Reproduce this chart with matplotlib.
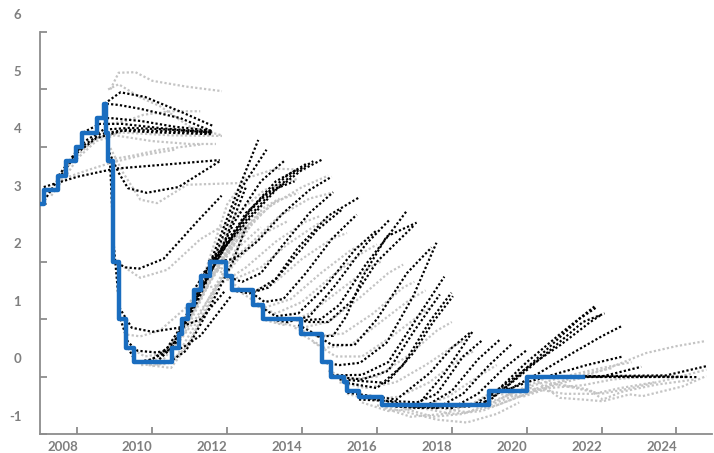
import numpy as np
import matplotlib.pyplot as plt
from matplotlib.transforms import ScaledTranslation

# policy rate (step changes), year -> percent
rate_dates = [2007.0, 2007.12, 2007.47, 2007.7, 2007.95, 2008.12, 2008.52, 2008.7, 2008.77,
              2008.82, 2008.95, 2009.12, 2009.3, 2009.52, 2010.52, 2010.7, 2010.8, 2010.96,
              2011.12, 2011.3, 2011.53, 2011.96, 2012.12, 2012.7, 2012.96, 2013.96, 2014.52,
              2014.78, 2015.12, 2015.21, 2015.52, 2016.13, 2019.0, 2020.0, 2021.5]
rate_values = [3.0, 3.25, 3.5, 3.75, 4.0, 4.25, 4.5, 4.75, 4.25,
               3.75, 2.0, 1.0, 0.5, 0.25, 0.5, 0.75, 1.0, 1.25,
               1.5, 1.75, 2.0, 1.75, 1.5, 1.25, 1.0, 0.75, 0.25,
               0.0, -0.1, -0.25, -0.35, -0.5, -0.25, 0.0, 0.0]

# published forecast paths (black), (year, percent)
forecast_paths_2007_2009 = [
    [(2007.05, 3.0), (2007.5, 3.45), (2008.0, 3.9), (2008.5, 4.15), (2009.2, 4.28), (2010.2, 4.25), (2011.6, 4.22)],
    [(2007.1, 3.3), (2008.0, 3.48), (2009.0, 3.62), (2010.5, 3.7), (2011.8, 3.77)],
    [(2007.5, 3.5), (2008.0, 3.95), (2008.6, 4.22), (2009.3, 4.3), (2010.5, 4.27), (2011.6, 4.24)],
    [(2007.8, 3.75), (2008.2, 4.1), (2008.7, 4.3), (2009.4, 4.33), (2010.5, 4.3), (2011.6, 4.25)],
    [(2008.15, 4.25), (2008.6, 4.4), (2009.2, 4.4), (2010.3, 4.32), (2011.6, 4.26)],
    [(2008.55, 4.5), (2008.9, 4.5), (2009.7, 4.45), (2010.6, 4.35), (2011.6, 4.28)],
    [(2008.72, 4.75), (2009.15, 4.95), (2009.8, 4.87), (2010.8, 4.6), (2011.6, 4.37)],
    [(2008.78, 4.75), (2009.1, 4.73), (2009.7, 4.66), (2010.75, 4.5), (2011.6, 4.27)],
    [(2008.85, 3.9), (2009.1, 3.55), (2009.35, 3.28), (2009.85, 3.2), (2010.7, 3.3), (2011.8, 3.75)],
    [(2008.95, 2.0), (2009.3, 1.9), (2009.65, 1.88), (2010.3, 2.05), (2011.2, 2.7), (2011.85, 3.15)],
    [(2008.87, 3.75), (2008.97, 2.3), (2009.12, 1.2), (2009.45, 0.85), (2010.0, 0.78), (2010.7, 0.85), (2011.3, 1.0), (2011.95, 1.5)],
    [(2009.15, 1.0), (2009.35, 0.6), (2009.6, 0.45), (2010.1, 0.42), (2010.8, 0.5), (2011.3, 0.72), (2012.1, 1.4)],
]

forecast_paths_2009_2012 = [
    [(2009.35, 0.5), (2009.55, 0.27), (2010.45, 0.25), (2010.9, 0.45), (2011.45, 1.1), (2012.15, 2.0), (2012.5, 2.6)],
    [(2009.55, 0.25), (2010.0, 0.3), (2010.6, 0.6), (2011.2, 1.3), (2011.9, 2.3), (2012.5, 3.3)],
    [(2009.8, 0.25), (2010.3, 0.4), (2010.9, 1.0), (2011.5, 1.9), (2012.2, 3.1), (2012.83, 4.12)],
    [(2010.1, 0.25), (2010.6, 0.55), (2011.2, 1.35), (2011.8, 2.3), (2012.4, 3.3), (2013.05, 3.95)],
    [(2010.5, 0.5), (2011.0, 1.1), (2011.6, 1.9), (2012.2, 2.7), (2012.9, 3.4), (2013.55, 3.77)],
    [(2010.7, 0.75), (2011.2, 1.4), (2011.8, 2.1), (2012.5, 2.85), (2013.2, 3.25), (2013.8, 3.4)],
    [(2010.85, 1.0), (2011.3, 1.55), (2011.9, 2.2), (2012.6, 2.9), (2013.3, 3.4), (2013.85, 3.6)],
    [(2011.1, 1.5), (2011.6, 2.0), (2012.2, 2.55), (2012.9, 3.1), (2013.6, 3.5), (2014.1, 3.7)],
    [(2011.3, 1.75), (2011.8, 2.15), (2012.4, 2.65), (2013.1, 3.15), (2013.8, 3.55), (2014.3, 3.75)],
    [(2011.5, 2.0), (2012.0, 2.3), (2012.6, 2.75), (2013.3, 3.25), (2014.0, 3.6), (2014.57, 3.79)],
    [(2011.7, 2.0), (2012.2, 2.05), (2012.8, 2.35), (2013.5, 2.85), (2014.2, 3.25), (2014.79, 3.48)],
    [(2011.95, 1.75), (2012.4, 1.65), (2012.9, 1.8), (2013.5, 2.3), (2014.2, 2.85), (2014.83, 3.21)],
]

forecast_paths_2012_2015 = [
    [(2012.12, 1.5), (2012.6, 1.45), (2013.1, 1.55), (2013.7, 2.0), (2014.4, 2.55), (2015.05, 2.9)],
    [(2012.3, 1.5), (2012.8, 1.5), (2013.3, 1.7), (2013.9, 2.25), (2014.7, 2.8), (2015.55, 3.13)],
    [(2012.55, 1.5), (2013.0, 1.3), (2013.5, 1.35), (2014.1, 1.8), (2014.8, 2.4), (2015.46, 2.82)],
    [(2012.8, 1.25), (2013.3, 1.05), (2013.9, 1.1), (2014.6, 1.55), (2015.4, 2.2), (2016.0, 2.55)],
    [(2013.1, 1.0), (2013.6, 0.95), (2014.2, 1.05), (2014.9, 1.6), (2015.7, 2.3), (2016.35, 2.74)],
    [(2013.5, 1.0), (2014.0, 0.98), (2014.5, 1.0), (2015.0, 1.25), (2015.7, 1.95), (2016.3, 2.45), (2016.79, 2.88)],
    [(2013.7, 1.0), (2014.2, 0.95), (2014.7, 0.95), (2015.3, 1.3), (2016.0, 2.0), (2016.97, 2.62)],
    [(2013.9, 0.9), (2014.47, 0.7), (2014.83, 0.71), (2015.18, 1.05), (2015.63, 1.75), (2016.26, 2.44), (2017.06, 2.68)],
    [(2014.3, 0.75), (2014.8, 0.55), (2015.4, 0.55), (2016.0, 1.0), (2016.8, 1.8), (2017.46, 2.25)],
    [(2014.52, 0.25), (2015.0, 0.2), (2015.55, 0.24), (2016.26, 0.59), (2016.97, 1.4), (2017.59, 2.33)],
    [(2014.8, 0.02), (2015.6, 0.03), (2016.3, 0.25), (2017.0, 0.95), (2017.8, 1.74)],
    [(2014.85, 0.0), (2015.6, -0.05), (2016.3, 0.1), (2017.0, 0.8), (2017.68, 1.43)],
    [(2015.0, -0.05), (2016.26, -0.11), (2016.97, 0.41), (2017.5, 0.95), (2018.03, 1.4)],
    [(2015.1, -0.1), (2016.0, -0.2), (2016.7, 0.2), (2017.4, 0.95), (2017.99, 1.46)],
    [(2015.21, -0.28), (2016.52, -0.4), (2017.41, 0.06), (2018.0, 0.5), (2018.48, 0.76)],
    [(2015.52, -0.4), (2017.15, -0.45), (2017.8, 0.05), (2018.56, 0.79)],
]

forecast_paths_2016_2021 = [
    [(2015.8, -0.38), (2016.9, -0.5), (2017.6, -0.3), (2018.3, 0.35), (2018.79, 0.62)],
    [(2016.13, -0.5), (2017.2, -0.55), (2018.0, -0.25), (2018.7, 0.3), (2019.28, 0.64)],
    [(2016.5, -0.52), (2017.6, -0.55), (2018.3, -0.3), (2019.0, 0.2), (2019.59, 0.56)],
    [(2016.9, -0.52), (2018.0, -0.55), (2018.7, -0.3), (2019.4, 0.15), (2020.02, 0.47)],
    [(2017.6, -0.52), (2018.5, -0.52), (2019.2, -0.25), (2020.0, 0.25), (2021.0, 0.8), (2021.81, 1.22)],
    [(2018.0, -0.52), (2018.8, -0.5), (2019.5, -0.15), (2020.5, 0.45), (2021.4, 1.0), (2021.85, 1.2)],
    [(2018.5, -0.5), (2019.0, -0.42), (2019.8, 0.0), (2020.7, 0.5), (2021.5, 0.95), (2022.08, 1.1)],
    [(2018.8, -0.5), (2019.1, -0.3), (2020.0, 0.15), (2020.9, 0.55), (2021.7, 0.95), (2022.0, 1.08)],
    [(2019.1, -0.25), (2019.6, -0.2), (2020.3, 0.05), (2021.2, 0.4), (2022.0, 0.7), (2022.57, 0.89)],
    [(2019.4, -0.25), (2020.0, -0.1), (2020.8, 0.05), (2021.6, 0.2), (2022.57, 0.35)],
    [(2020.0, 0.0), (2022.0, 0.0), (2022.5, 0.08), (2023.06, 0.17)],
    [(2020.2, 0.0), (2023.7, 0.0), (2024.57, -0.01)],
    [(2020.6, 0.0), (2023.72, 0.02), (2024.79, 0.18)],
    [(2020.9, 0.0), (2023.5, 0.0), (2024.3, 0.0)],
]

# market expectations (grey), (year, percent)
market_paths_2007_2012 = [
    [(2007.3, 3.15), (2007.7, 3.5), (2008.0, 3.8), (2008.5, 4.1), (2009.0, 4.2), (2010.0, 4.1), (2011.0, 4.05), (2011.7, 4.05)],
    [(2007.6, 3.55), (2008.0, 3.85), (2008.5, 4.15), (2009.2, 4.25), (2010.5, 4.2), (2011.86, 4.19)],
    [(2008.88, 5.0), (2009.1, 5.29), (2009.55, 5.3), (2010.0, 5.15), (2010.9, 5.05), (2011.86, 4.97)],
    [(2008.82, 5.0), (2009.1, 5.09), (2009.68, 4.86), (2010.2, 4.71), (2011.0, 4.35), (2011.86, 4.2)],
    [(2008.8, 4.39), (2009.3, 4.45), (2009.77, 4.56), (2010.5, 4.62), (2011.28, 4.62)],
    [(2008.88, 3.78), (2009.5, 3.85), (2010.2, 3.95), (2011.28, 4.04)],
    [(2008.88, 3.98), (2009.22, 3.55), (2009.68, 3.08), (2010.13, 3.02), (2010.93, 3.34), (2012.35, 3.37)],
    [(2007.55, 3.43), (2008.3, 3.6), (2008.88, 3.72), (2009.7, 3.85), (2010.6, 3.95)],
    [(2009.15, 1.95), (2009.68, 1.72), (2010.4, 1.86), (2011.28, 2.39), (2011.95, 2.65)],
    [(2009.33, 0.73), (2009.68, 0.7), (2010.2, 0.8), (2010.9, 1.2), (2011.6, 1.85), (2012.2, 2.4)],
    [(2009.4, 0.5), (2009.8, 0.35), (2010.3, 0.4), (2010.9, 0.9), (2011.5, 1.6), (2012.2, 2.3)],
    [(2009.6, 0.25), (2010.2, 0.3), (2010.8, 0.75), (2011.4, 1.5), (2012.0, 2.2), (2012.6, 2.8)],
    [(2009.7, 0.2), (2010.4, 0.22), (2010.9, 0.5), (2011.4, 1.1), (2011.9, 1.75), (2012.3, 2.1)],
    [(2009.9, 0.2), (2010.5, 0.15), (2011.0, 0.6), (2011.6, 1.4), (2012.3, 2.3), (2012.9, 2.9)],
    [(2010.0, 0.18), (2010.6, 0.3), (2011.1, 0.85), (2011.7, 1.6), (2012.3, 2.25), (2012.9, 2.6)],
    [(2010.2, 0.3), (2010.8, 0.9), (2011.4, 1.8), (2012.0, 3.0), (2012.5, 3.45), (2013.3, 3.62), (2014.1, 3.6)],
    [(2010.3, 0.3), (2010.9, 0.8), (2011.5, 1.6), (2012.2, 2.4), (2013.0, 2.95), (2013.4, 3.1)],
    [(2010.5, 0.5), (2011.0, 1.1), (2011.6, 2.0), (2012.2, 2.8), (2013.0, 3.25), (2013.9, 3.45)],
    [(2010.6, 0.5), (2011.1, 0.95), (2011.7, 1.55), (2012.3, 2.05), (2013.0, 2.5), (2013.6, 2.7)],
    [(2010.7, 0.8), (2011.2, 1.3), (2011.8, 1.95), (2012.5, 2.6), (2013.3, 3.05), (2013.9, 3.2)],
]

market_paths_2011_2016 = [
    [(2011.0, 1.2), (2011.6, 1.8), (2012.3, 2.4), (2013.1, 2.95), (2014.0, 3.3), (2014.7, 3.5)],
    [(2011.2, 1.5), (2011.8, 1.6), (2012.5, 1.9), (2013.3, 2.35), (2014.1, 2.7), (2014.5, 2.8)],
    [(2011.3, 1.7), (2011.9, 1.9), (2012.6, 2.3), (2013.4, 2.8), (2014.2, 3.1), (2014.8, 3.2)],
    [(2011.6, 1.9), (2012.2, 1.7), (2012.9, 1.9), (2013.6, 2.3), (2014.4, 2.65), (2014.9, 2.8)],
    [(2012.0, 1.7), (2012.5, 1.45), (2013.2, 1.6), (2014.0, 2.05), (2014.8, 2.4), (2015.2, 2.5)],
    [(2012.4, 1.45), (2013.0, 1.2), (2013.7, 1.35), (2014.5, 1.8), (2015.3, 2.2), (2015.6, 2.3)],
    [(2012.7, 1.25), (2013.3, 1.1), (2014.0, 1.3), (2014.8, 1.75), (2015.6, 2.15), (2016.0, 2.3)],
    [(2012.9, 1.0), (2013.5, 0.9), (2014.2, 1.1), (2015.0, 1.5), (2015.8, 1.9), (2016.1, 2.0)],
    [(2013.3, 0.95), (2014.0, 0.85), (2014.7, 0.95), (2015.5, 1.35), (2016.3, 1.8), (2016.7, 1.95)],
    [(2013.8, 0.85), (2014.4, 0.7), (2015.1, 0.75), (2015.9, 1.1), (2016.7, 1.55), (2017.0, 1.65)],
    [(2013.95, 0.75), (2014.6, 0.5), (2015.3, 0.55), (2016.1, 0.95), (2016.9, 1.35), (2017.3, 1.5)],
    [(2014.3, 0.6), (2014.9, 0.35), (2015.6, 0.35), (2016.4, 0.7), (2017.2, 1.1), (2017.5, 1.25)],
    [(2014.7, 0.1), (2015.3, -0.05), (2016.0, 0.0), (2016.8, 0.35), (2017.6, 0.8), (2018.0, 0.95)],
    [(2015.0, -0.1), (2015.7, -0.2), (2016.5, -0.1), (2017.3, 0.2), (2018.1, 0.55), (2018.4, 0.65)],
    [(2015.2, -0.3), (2015.8, -0.4), (2016.6, -0.35), (2017.4, -0.1), (2018.2, 0.3), (2018.6, 0.45)],
    [(2015.6, -0.45), (2016.3, -0.6), (2017.1, -0.55), (2017.9, -0.35), (2018.7, 0.0), (2019.2, 0.2)],
]

market_paths_2016_2021 = [
    [(2016.0, -0.5), (2016.8, -0.62), (2017.6, -0.75), (2018.4, -0.8), (2019.2, -0.65), (2019.8, -0.45)],
    [(2016.2, -0.55), (2016.9, -0.7), (2017.8, -0.65), (2018.6, -0.45), (2019.4, -0.15), (2019.9, 0.05)],
    [(2016.7, -0.55), (2017.5, -0.7), (2018.3, -0.65), (2019.1, -0.45), (2019.9, -0.2), (2020.6, 0.0)],
    [(2017.2, -0.55), (2018.0, -0.65), (2018.8, -0.6), (2019.6, -0.4), (2020.4, -0.2), (2021.1, -0.05)],
    [(2017.7, -0.55), (2018.4, -0.62), (2019.2, -0.5), (2020.0, -0.3), (2020.9, -0.12), (2021.6, 0.0)],
    [(2018.2, -0.52), (2019.0, -0.5), (2019.8, -0.3), (2020.7, -0.12), (2021.6, 0.05), (2022.3, 0.15)],
    [(2018.8, -0.5), (2019.4, -0.35), (2020.2, -0.15), (2021.0, 0.0), (2022.0, 0.15), (2022.8, 0.25)],
    [(2019.2, -0.3), (2019.9, -0.35), (2020.6, -0.2), (2021.5, -0.15), (2022.3, -0.05), (2023.2, 0.0)],
    [(2019.5, -0.3), (2020.1, -0.2), (2021.0, -0.3), (2021.8, -0.3), (2022.5, -0.2), (2023.4, -0.1)],
    [(2020.9, 0.0), (2021.6, 0.02), (2022.2, 0.15), (2023.19, 0.41), (2024.0, 0.53), (2024.79, 0.62)],
    [(2020.3, -0.1), (2020.88, -0.37), (2021.5, -0.4), (2022.03, -0.43), (2022.75, -0.31), (2023.1, -0.34), (2024.17, -0.17), (2024.8, 0.01)],
    [(2021.0, -0.15), (2021.68, -0.23), (2022.03, -0.4), (2022.57, -0.26), (2023.47, -0.14), (2024.5, -0.05)],
    [(2020.5, -0.1), (2021.3, -0.2), (2022.0, -0.3), (2022.8, -0.2), (2023.8, -0.05), (2024.8, 0.12)],
]

year_ticks = [2008, 2010, 2012, 2014, 2016, 2018, 2020, 2022, 2024]
rate_ticks = [-1, 0, 1, 2, 3, 4, 5, 6]

axis_grey = '#8c8c8c'
label_grey = '#7f7f7f'
dots = (0, (1, 1))

fig = plt.figure(figsize=(7.14, 4.53), dpi=100)
ax = fig.add_axes([40 / 714, 19 / 453, 672 / 714, 402 / 453])

for group in (market_paths_2007_2012, market_paths_2011_2016, market_paths_2016_2021):
    for path in group:
        x, y = zip(*path)
        ax.plot(x, y, color='#c4c4c4', linestyle=dots, linewidth=1.6, zorder=1)

for group in (forecast_paths_2007_2009, forecast_paths_2009_2012,
              forecast_paths_2012_2015, forecast_paths_2016_2021):
    for path in group:
        x, y = zip(*path)
        ax.plot(x, y, color='black', linestyle=dots, linewidth=1.6, zorder=2)

ax.plot(rate_dates, rate_values, color='#1a6dbf', linewidth=3.2, drawstyle='steps-post', zorder=3)

ax.set_xlim(2007.0, 2024.95)
ax.set_ylim(-1, 6)
ax.set_xticks(year_ticks)
ax.set_xticklabels([str(y) for y in year_ticks])
ax.set_yticks(rate_ticks)
ax.set_yticklabels([str(r) for r in rate_ticks])

for side in ('top', 'right'):
    ax.spines[side].set_visible(False)
for side in ('left', 'bottom'):
    ax.spines[side].set_color(axis_grey)
    ax.spines[side].set_linewidth(1.3)

ax.tick_params(axis='y', direction='in', length=5, width=1.3, color=axis_grey, pad=13.5)
ax.tick_params(axis='x', direction='in', length=5, width=1.3, color=axis_grey, pad=5)
for lab in ax.get_xticklabels() + ax.get_yticklabels():
    lab.set_fontfamily('Lato')
    lab.set_fontweight('bold')
    lab.set_fontsize(9.5)
    lab.set_color(label_grey)

# labels in the original sit off their tick marks
for lab in ax.get_yticklabels():
    lab.set_transform(lab.get_transform() + ScaledTranslation(0, 13.3 / 72, fig.dpi_scale_trans))
for lab in ax.get_xticklabels():
    lab.set_transform(lab.get_transform() + ScaledTranslation(-10.8 / 72, 0, fig.dpi_scale_trans))

plt.savefig('out.png', dpi=100)
